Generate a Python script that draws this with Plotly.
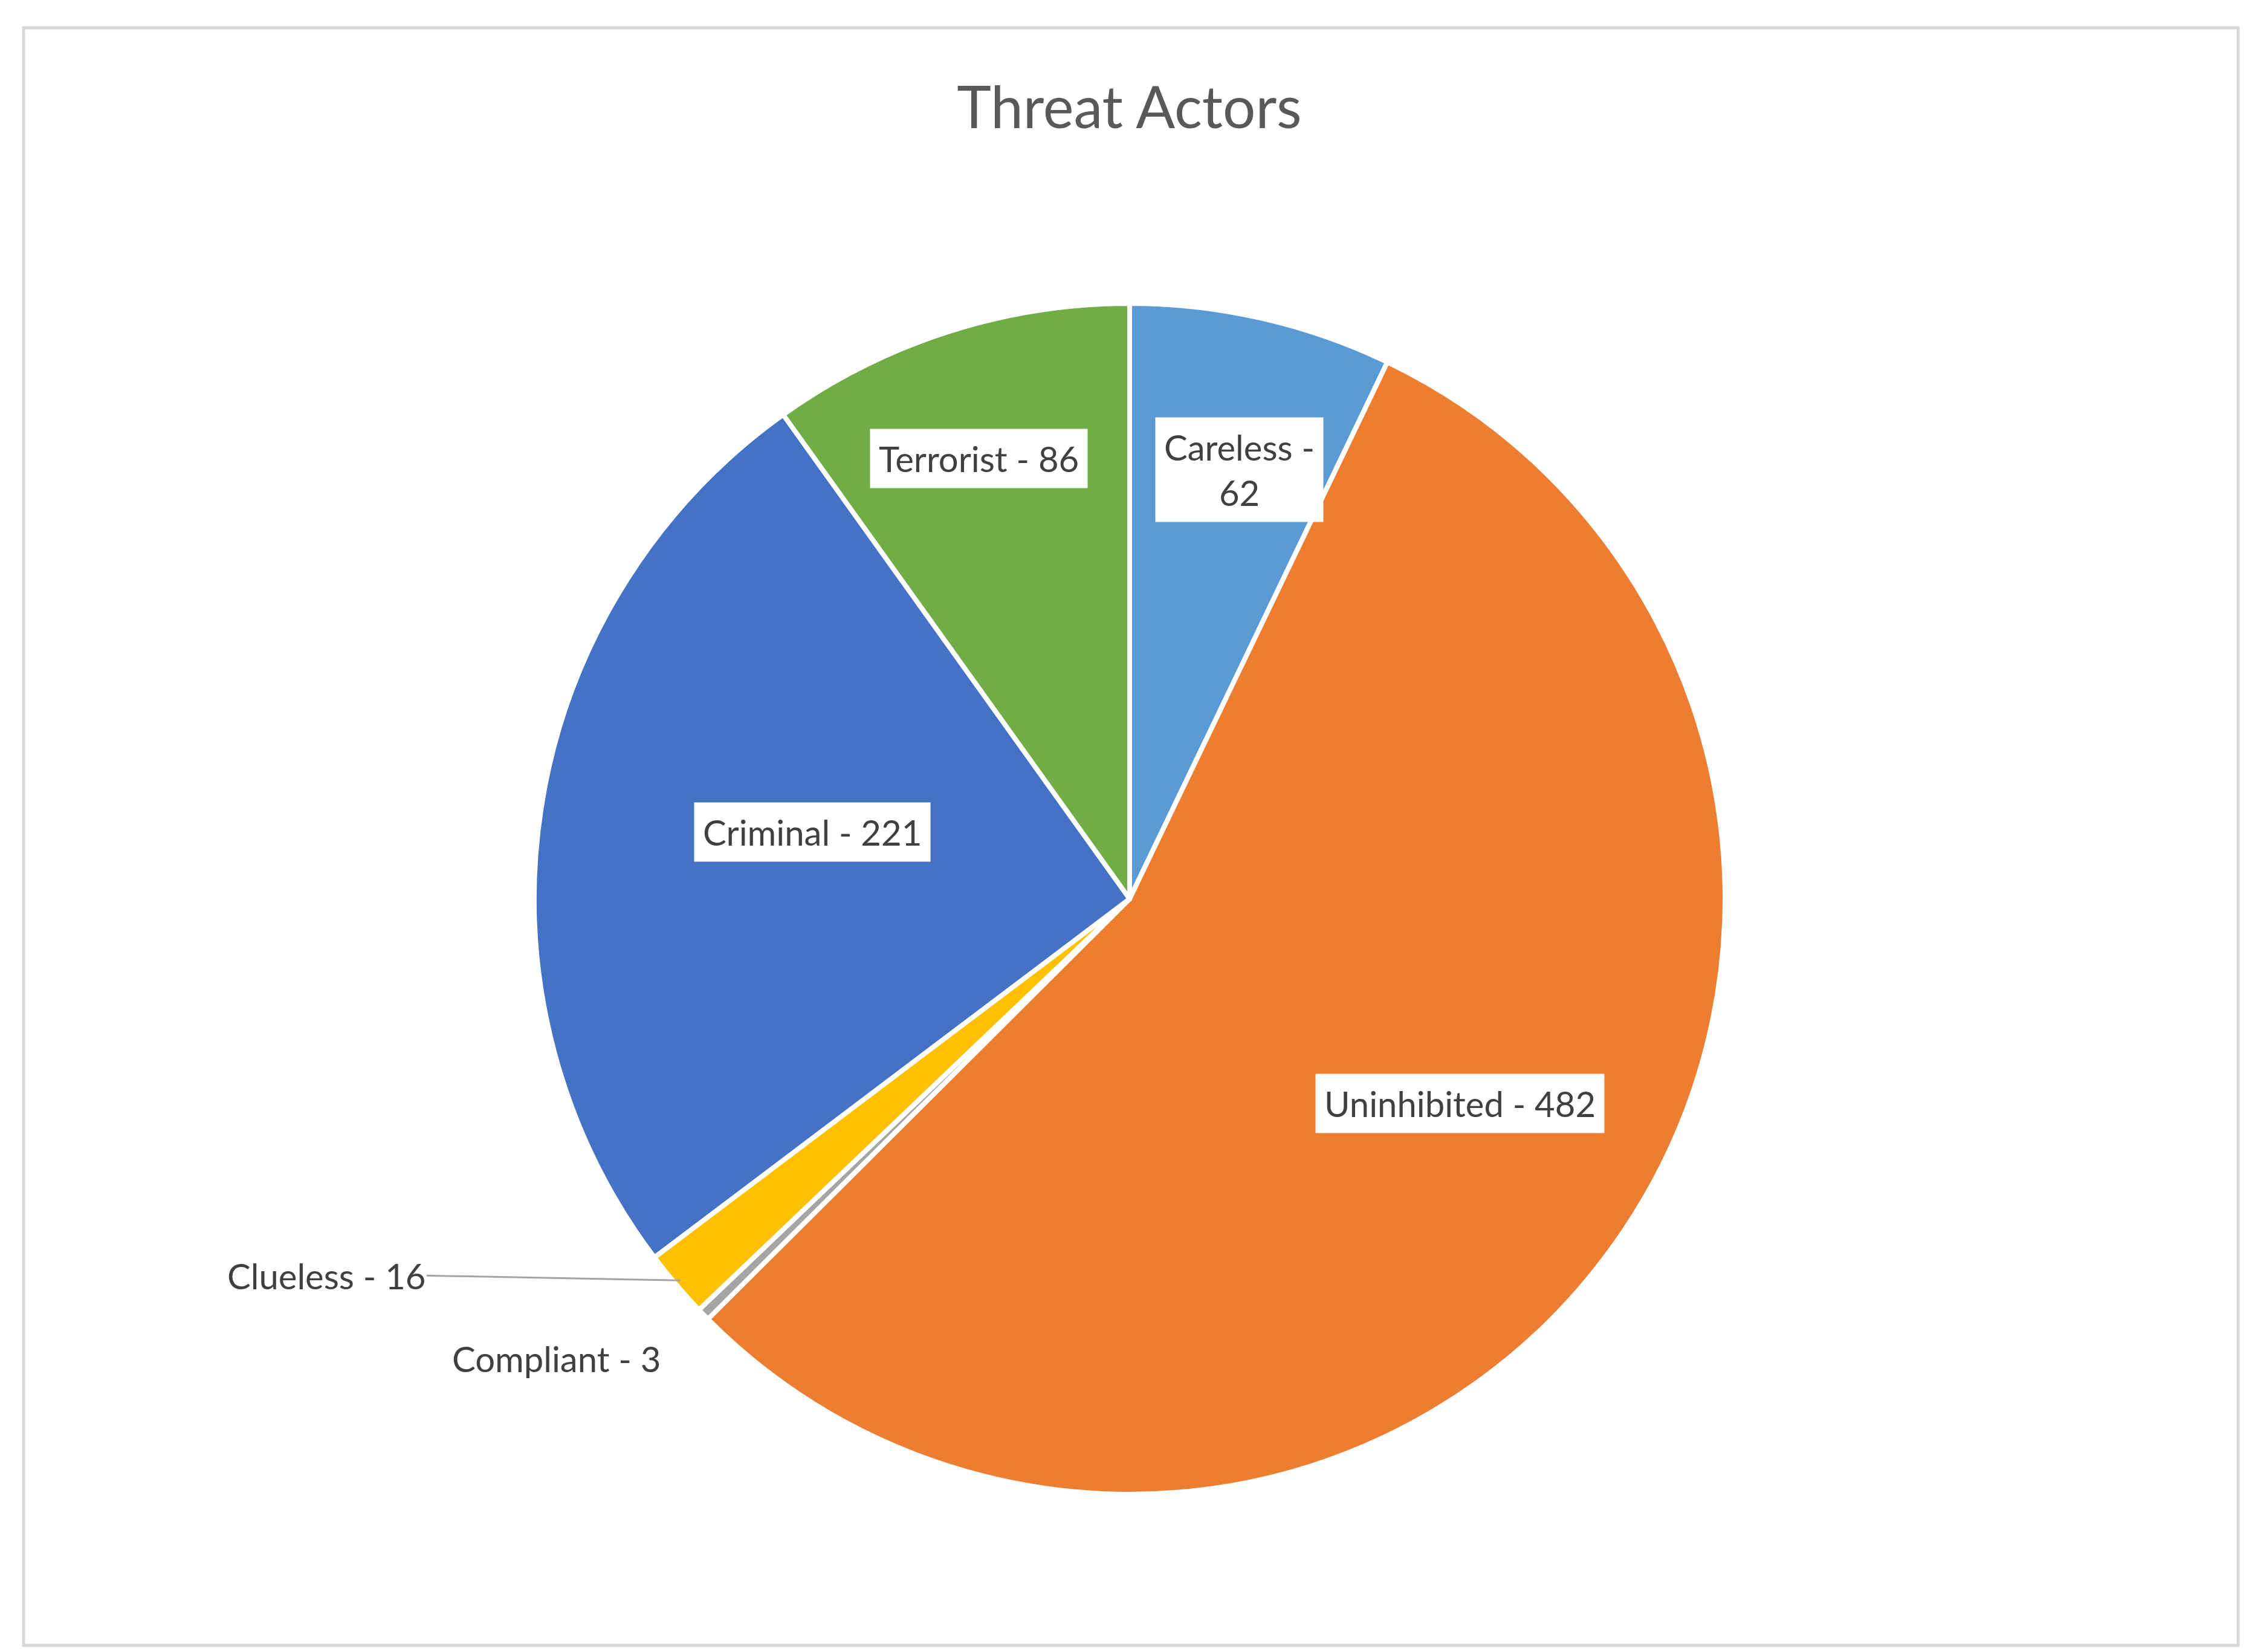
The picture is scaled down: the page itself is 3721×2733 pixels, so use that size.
import math
import plotly.graph_objects as go

labels = ["Careless", "Uninhibited", "Compliant", "Clueless", "Criminal", "Terrorist"]
values = [62, 482, 3, 16, 221, 86]
colors = ["#5B9BD5", "#ED7D31", "#A5A5A5", "#FFC000", "#4472C4", "#70AD47"]

W, H = 3721, 2733
cx, cy, R = 1861, 1479, 985  # pixel center (from top) and radius
dom_x = [(cx - R) / W, (cx + R) / W]
dom_y = [(H - cy - R) / H, (H - cy + R) / H]

fig = go.Figure(go.Pie(
    labels=labels, values=values, sort=False, direction="clockwise", rotation=0,
    marker=dict(colors=colors, line=dict(color="white", width=8)),
    textinfo="none", hoverinfo="label+value", showlegend=False,
    domain=dict(x=dom_x, y=dom_y),
))

total = sum(values)
inside_r = {"Careless": 0.83, "Uninhibited": 0.68, "Criminal": 0.74, "Terrorist": 0.83}
texts = {"Careless": "Careless -<br>62"}
font = dict(family="Lato, Open Sans, sans-serif", size=58, color="#404040")
annotations = []
cum = 0
for lab, v in zip(labels, values):
    mid = (cum + v / 2) / total * 2 * math.pi
    cum += v
    s, c = math.sin(mid), math.cos(mid)
    if lab in inside_r:
        f = inside_r[lab]
        px, py = cx + f * R * s, cy - f * R * c
        annotations.append(dict(x=px / W, y=1 - py / H, xref="paper", yref="paper",
                                text=texts.get(lab, f"{lab} - {v}"), showarrow=False,
                                bgcolor="white", borderpad=14, font=font))
    else:
        px, py = cx + 0.99 * R * s, cy - 0.99 * R * c
        if lab == "Clueless":
            annotations.append(dict(x=px / W, y=1 - py / H, xref="paper", yref="paper",
                                    text=f"{lab} - {v}", showarrow=True, arrowhead=0,
                                    arrowwidth=3, arrowcolor="#A5A5A5", ax=-420, ay=-8,
                                    xanchor="right", font=font))
        else:
            annotations.append(dict(x=px / W, y=1 - py / H, xref="paper", yref="paper",
                                    text=f"{lab} - {v}", showarrow=True, arrowhead=0,
                                    arrowwidth=0.1, arrowcolor="rgba(0,0,0,0)", ax=-250, ay=80,
                                    font=font))

fig.update_layout(
    width=W, height=H, margin=dict(l=0, r=0, t=0, b=0),
    paper_bgcolor="white",
    title=dict(text="Threat Actors", x=0.5, xanchor="center", y=1 - 170 / H, yanchor="middle",
               font=dict(family="Lato, Open Sans, sans-serif", size=96, color="#595959")),
    annotations=annotations,
    shapes=[dict(type="rect", xref="paper", yref="paper", x0=31 / W, x1=3695 / W,
                 y0=1 - 2714 / H, y1=1 - 38 / H, line=dict(color="#D9D9D9", width=5))],
)
fig.write_html("out.html")
